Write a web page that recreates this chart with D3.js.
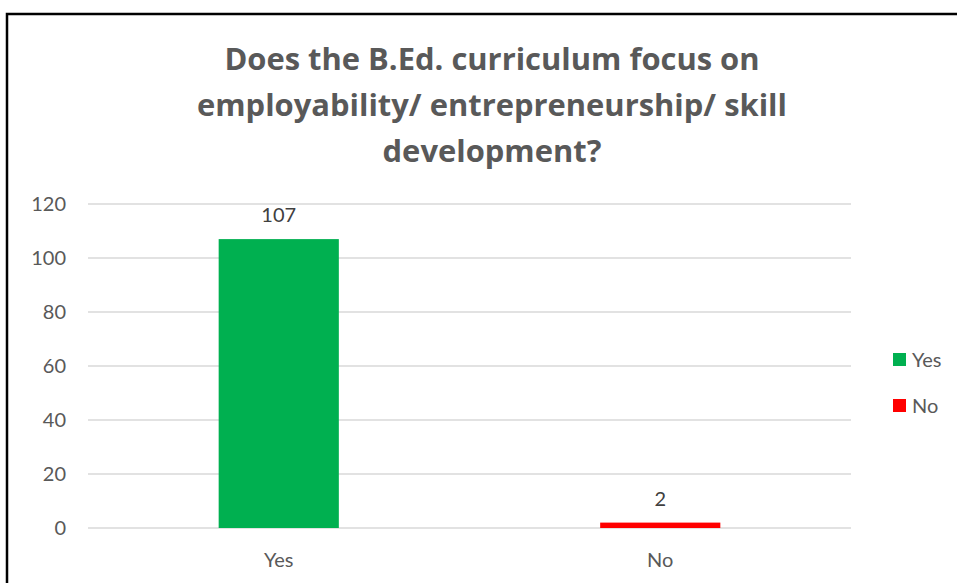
<!DOCTYPE html>
<html>
<head>
  <meta charset="utf-8">
  <style>
    body { margin: 0; background: #fff; font-family: Lato, "Open Sans", sans-serif; }
    .grid line { stroke: #d9d9d9; stroke-width: 1.5px; }
    .axis text { fill: #595959; font-size: 20px; font-family: Lato, "Open Sans", sans-serif; }
    .title { fill: #595959; font-weight: bold; font-family: "Open Sans", sans-serif; }
    .dlabel { fill: #404040; font-size: 20px; }
  </style>
</head>
<body>
  <div id="chart"></div>
  <script src="https://d3js.org/d3.v7.min.js"></script>
  <script>
    const categories = ["Yes", "No"];
    const values = [107, 2];
    const colors = ["#00b050", "#ff0000"];
    const yTicks = [0, 20, 40, 60, 80, 100, 120];
    const titleLines = ["Does the B.Ed. curriculum focus on", "employability/ entrepreneurship/ skill", "development?"];

    const width = 957, height = 583;
    const plot = { left: 88, right: 851, top: 204, bottom: 528 };

    const svg = d3.select("#chart").append("svg")
      .attr("width", width)
      .attr("height", height);

    // chart frame
    svg.append("rect")
      .attr("x", 7).attr("y", 14)
      .attr("width", 980).attr("height", 600)
      .attr("fill", "none")
      .attr("stroke", "#000")
      .attr("stroke-width", 2.5);

    const title = svg.append("text")
      .attr("class", "title")
      .attr("text-anchor", "middle")
      .style("font-size", "30px");
    title.selectAll("tspan")
      .data(titleLines)
      .join("tspan")
      .attr("x", 492)
      .attr("y", (d, i) => 70 + i * 46)
      .text(d => d);
    // fit the widest line to the width seen in the reference (~590px)
    const w = title.selectAll("tspan").nodes()[1].getComputedTextLength();
    title.style("font-size", (30 * 590 / w).toFixed(2) + "px");

    const x = d3.scaleBand()
      .domain(categories)
      .range([plot.left, plot.right])
      .paddingInner(0.685)
      .paddingOuter(0.3425);

    const y = d3.scaleLinear()
      .domain([0, 120])
      .range([plot.bottom, plot.top]);

    // gridlines
    svg.append("g")
      .attr("class", "grid")
      .selectAll("line")
      .data(yTicks)
      .join("line")
      .attr("x1", plot.left).attr("x2", plot.right)
      .attr("y1", d => y(d)).attr("y2", d => y(d));

    const yAxis = svg.append("g")
      .attr("class", "axis")
      .attr("transform", `translate(${plot.left - 6},0)`)
      .call(d3.axisLeft(y).tickValues(yTicks).tickSize(0).tickPadding(16));
    yAxis.select(".domain").remove();

    const xAxis = svg.append("g")
      .attr("class", "axis")
      .attr("transform", `translate(0,${plot.bottom})`)
      .call(d3.axisBottom(x).tickSize(0).tickPadding(25));
    xAxis.select(".domain").remove();

    svg.append("g")
      .selectAll("rect")
      .data(values)
      .join("rect")
      .attr("x", (d, i) => x(categories[i]))
      .attr("width", x.bandwidth())
      .attr("y", d => y(d))
      .attr("height", d => y(0) - y(d))
      .attr("fill", (d, i) => colors[i]);

    svg.append("g")
      .selectAll("text")
      .data(values)
      .join("text")
      .attr("class", "dlabel")
      .attr("text-anchor", "middle")
      .attr("x", (d, i) => x(categories[i]) + x.bandwidth() / 2)
      .attr("y", d => y(d) - 17)
      .text(d => d);

    // legend
    const legend = svg.append("g")
      .selectAll("g")
      .data(categories)
      .join("g")
      .attr("transform", (d, i) => `translate(893,${353 + i * 46})`);
    legend.append("rect")
      .attr("width", 13).attr("height", 13)
      .attr("fill", (d, i) => colors[i]);
    legend.append("text")
      .attr("x", 19).attr("y", 6.5)
      .attr("dy", "0.36em")
      .attr("fill", "#595959")
      .style("font-size", "20px")
      .text(d => d);
  </script>
</body>
</html>
